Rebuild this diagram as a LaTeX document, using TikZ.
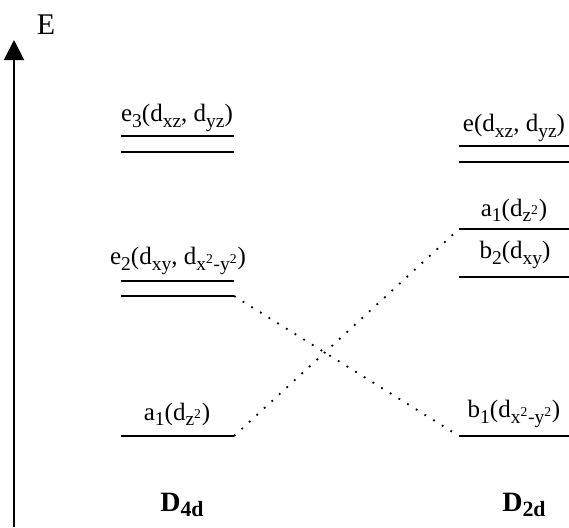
\documentclass[tikz,border=0pt]{standalone}
\usepackage{fontspec}
\setmainfont{Liberation Serif}
\usetikzlibrary{arrows.meta}

% lowered subscript, a bit larger than \textsubscript
\newcommand{\lsub}[1]{\raisebox{-0.45ex}{\scalebox{0.78}{#1}}}

\tikzset{
    level/.style={line width=0.9pt},
    corr/.style={line width=0.9pt, dash pattern=on 0.9pt off 4.2pt},
    lab/.style={font=\fontsize{12.5}{15}\selectfont, inner sep=0pt}
}

\begin{document}
\begin{tikzpicture}[x=0.5pt, y=-0.5pt]
    \useasboundingbox (0,0) rectangle (569,527);

    % Energy axis
    \coordinate (axbot) at (14,527);
    \coordinate (axtop) at (14,40);
    \draw[line width=1pt, -{Triangle[width=10pt,length=10pt]}] (axbot) -- (axtop);
    \node[lab, font=\fontsize{15}{17}\selectfont] (E) at (46,25) {E};

    % D4d levels
    \draw[level] (121,136) coordinate (le3a) -- (234,136);
    \draw[level] (121,152) -- (234,152) coordinate (le3b);
    \node[lab] (le3) at (177,118) {e\lsub{3}(d\lsub{xz}, d\lsub{yz})};

    \draw[level] (121,281) -- (234,281);
    \draw[level] (121,296) -- (234,296) coordinate (le2);
    \node[lab] (le2lab) at (178,261) {e\lsub{2}(d\lsub{xy}, d\lsub{x\textsuperscript{2}-y\textsuperscript{2}})};

    \draw[level] (121,436) -- (234,436) coordinate (la1);
    \node[lab] (la1lab) at (177,414) {a\lsub{1}(d\lsub{z\textsuperscript{2}})};

    % D2d levels
    \draw[level] (459,146) -- (569,146);
    \draw[level] (459,162) -- (569,162);
    \node[lab] (re) at (514,128) {e(d\lsub{xz}, d\lsub{yz})};

    \draw[level] (459,229) coordinate (ra1) -- (569,229);
    \node[lab] (ra1lab) at (514,210) {a\lsub{1}(d\lsub{z\textsuperscript{2}})};

    \draw[level] (459,277) coordinate (rb2) -- (569,277);
    \node[lab] (rb2lab) at (515,255) {b\lsub{2}(d\lsub{xy})};

    \draw[level] (459,436) coordinate (rb1) -- (569,436);
    \node[lab] (rb1lab) at (514,414) {b\lsub{1}(d\lsub{x\textsuperscript{2}-y\textsuperscript{2}})};

    % Correlation lines
    \draw[corr] (le2) -- (rb1);
    \draw[corr] (la1) -- (ra1);

    % Groups
    \node[lab, font=\fontsize{14}{16}\selectfont\bfseries] (d4d) at (182,505) {D\lsub{4d}};
    \node[lab, font=\fontsize{14}{16}\selectfont\bfseries] (d2d) at (524,505) {D\lsub{2d}};
\end{tikzpicture}
\end{document}
